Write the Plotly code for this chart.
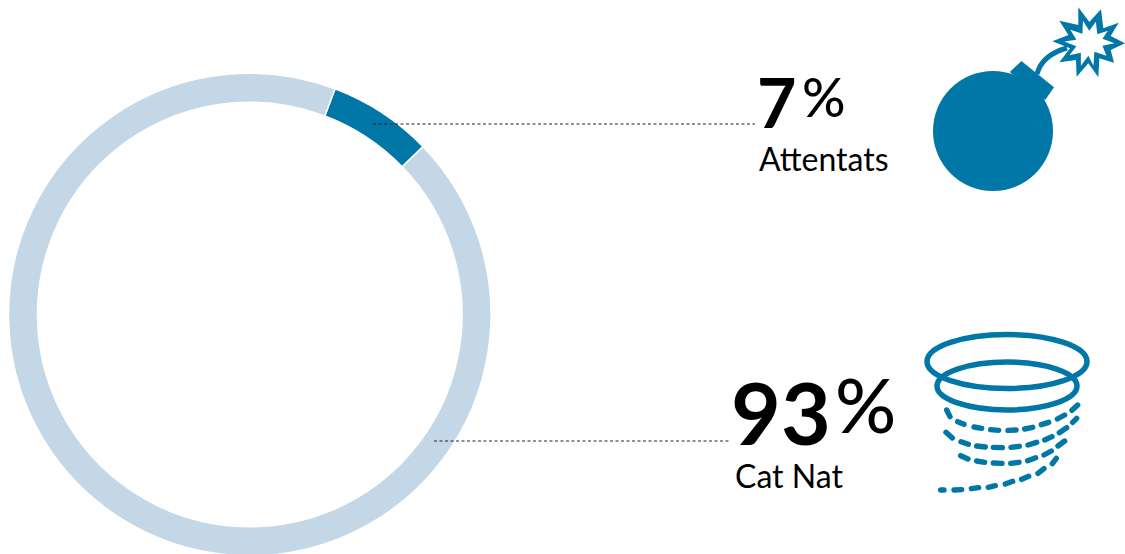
import plotly.graph_objects as go

W = 1125
H = 556  # ring runs a pixel past the bottom of the window

categories = ['Attentats', 'Cat Nat']
values = [7, 93]
colors = ['#0077a7', '#c3d7e7']

BLUE = '#0077a7'
FONT = 'Lato'


def px(x):
    return x / W


def py(y):
    return 1 - y / H


def to_path(points):
    parts = [f'{px(x):.5f},{py(y):.5f}' for x, y in points]
    return 'M' + 'L'.join(parts) + 'Z'


def capsule(x0, y0, x1, y1, r=2.7):
    # short dash with round ends, the tornado dashes
    dx, dy = x1 - x0, y1 - y0
    n = (dx * dx + dy * dy) ** 0.5 or 1
    tx, ty = dx / n * r, dy / n * r
    nx, ny = -ty, tx
    pts = [
        ('M', x0 + nx, y0 + ny), ('L', x1 + nx, y1 + ny),
        ('Q', x1 + nx + tx, y1 + ny + ty, x1 + tx, y1 + ty),
        ('Q', x1 - nx + tx, y1 - ny + ty, x1 - nx, y1 - ny),
        ('L', x0 - nx, y0 - ny),
        ('Q', x0 - nx - tx, y0 - ny - ty, x0 - tx, y0 - ty),
        ('Q', x0 + nx - tx, y0 + ny - ty, x0 + nx, y0 + ny),
    ]
    out = ''
    for p in pts:
        coords = p[1:]
        pairs = [f'{px(coords[i]):.5f},{py(coords[i + 1]):.5f}' for i in range(0, len(coords), 2)]
        out += p[0] + ' '.join(pairs)
    return out + 'Z'


fig = go.Figure()

fig.add_trace(
    go.Pie(
        labels=categories,
        values=values,
        hole=0.88,
        sort=False,
        direction='clockwise',
        rotation=20.7,
        marker=dict(colors=colors, line=dict(color='white', width=1.5)),
        textinfo='none',
        hoverinfo='label+percent',
        showlegend=False,
        domain=dict(x=[px(8.5), px(491)], y=[0, py(73)]),
    )
)

shapes = []

# leader lines
for x0, x1, y in [(373, 755, 124), (434, 730, 441)]:
    shapes.append(dict(
        type='line', xref='paper', yref='paper',
        x0=px(x0), x1=px(x1), y0=py(y), y1=py(y),
        line=dict(color='#222222', width=1, dash='3px,2.5px'),
    ))

# bomb
shapes.append(dict(
    type='circle', xref='paper', yref='paper',
    x0=px(933), x1=px(1053), y0=py(71), y1=py(191),
    fillcolor=BLUE, line=dict(width=0),
))
neck = [(1021.5, 62), (1053, 87.5), (1045, 99), (1011, 72)]
shapes.append(dict(type='path', xref='paper', yref='paper', path=to_path(neck),
                   fillcolor=BLUE, line=dict(color=BLUE, width=1.5)))
shapes.append(dict(
    type='path', xref='paper', yref='paper',
    path=f'M{px(1037)},{py(74)}Q{px(1042)},{py(55)} {px(1067)},{py(48)}',
    line=dict(color=BLUE, width=5),
))

star_outer = [(115, 22), (148, 66), (183, 28), (190, 85), (236, 68), (212, 108), (255, 130),
              (212, 150), (222, 188), (178, 175), (175, 232), (145, 190), (110, 230), (108, 180),
              (58, 187), (90, 145), (37, 124), (85, 105), (58, 62), (115, 75)]
star_inner = [(127, 55), (148, 88), (170, 58), (175, 100), (210, 88), (192, 115), (232, 130),
              (192, 138), (205, 172), (165, 158), (162, 205), (145, 172), (120, 205), (120, 162),
              (82, 170), (105, 140), (65, 124), (105, 118), (85, 85), (125, 98)]
# white centre sits a little tighter than the points
star_inner = [(146 + (x - 146) * 0.9, 128 + (y - 128) * 0.9) for x, y in star_inner]
for pts, col in [(star_outer, BLUE), (star_inner, 'white')]:
    shapes.append(dict(
        type='path', xref='paper', yref='paper',
        path=to_path([(1040 + x / 3, y / 3) for x, y in pts]),
        fillcolor=col, line=dict(width=0),
    ))

# tornado
for cx, cy, rx, ry in [(1007, 361.5, 80, 27), (1007, 386, 70, 24)]:
    shapes.append(dict(
        type='circle', xref='paper', yref='paper',
        x0=px(cx - rx), x1=px(cx + rx), y0=py(cy - ry), y1=py(cy + ry),
        line=dict(color=BLUE, width=5.5),
    ))

tornado_dashes = [
    (110, 255, 120, 275), (143, 290, 162, 298), (192, 306, 215, 310), (242, 314, 266, 316),
    (294, 316, 318, 315), (344, 312, 368, 307), (394, 299, 416, 292), (442, 282, 464, 270),
    (486, 256, 503, 240),
    (108, 322, 127, 339), (153, 350, 175, 358), (200, 363, 226, 366), (250, 367, 277, 368),
    (303, 367, 328, 364), (354, 360, 380, 352), (404, 345, 426, 335), (448, 323, 470, 308),
    (488, 292, 500, 280),
    (152, 392, 174, 402), (200, 408, 224, 412), (250, 414, 276, 415), (302, 415, 327, 412),
    (353, 407, 377, 398), (402, 390, 424, 378), (444, 363, 464, 348),
    (92, 495, 102, 495), (132, 495, 155, 494), (184, 491, 206, 488), (235, 487, 256, 482),
    (286, 477, 308, 469), (335, 463, 356, 454), (384, 445, 402, 431), (427, 416, 439, 400),
]
for a, b, c, d in tornado_dashes:
    shapes.append(dict(
        type='path', xref='paper', yref='paper',
        path=capsule(910 + a / 3, 325 + b / 3, 910 + c / 3, 325 + d / 3),
        fillcolor=BLUE, line=dict(width=0),
    ))

# text: x left, y centre, text, size, weight
labels = [
    (755, 102, '7', 68, 700),
    (800, 96, '%', 54, 500),
    (729, 412, '93', 86, 700),
    (833, 403, '%', 76, 500),
    (757, 158.5, 'Attentats', 32, 400),
    (733, 475, 'Cat Nat', 32, 400),
]
annotations = []
for x, y, text, size, weight in labels:
    annotations.append(dict(
        x=px(x), y=py(y), xref='paper', yref='paper',
        xanchor='left', yanchor='middle', showarrow=False, text=text,
        font=dict(family=FONT, size=size, color='black', weight=weight),
    ))

fig.update_layout(
    width=W,
    height=H,
    margin=dict(l=0, r=0, t=0, b=0),
    paper_bgcolor='white',
    shapes=shapes,
    annotations=annotations,
)

# the page's default body margin would push the figure 8px in
fig.write_html(
    'out.html',
    config={'displayModeBar': False},
    post_script="document.body.style.margin='0';document.body.style.overflow='hidden';",
)
